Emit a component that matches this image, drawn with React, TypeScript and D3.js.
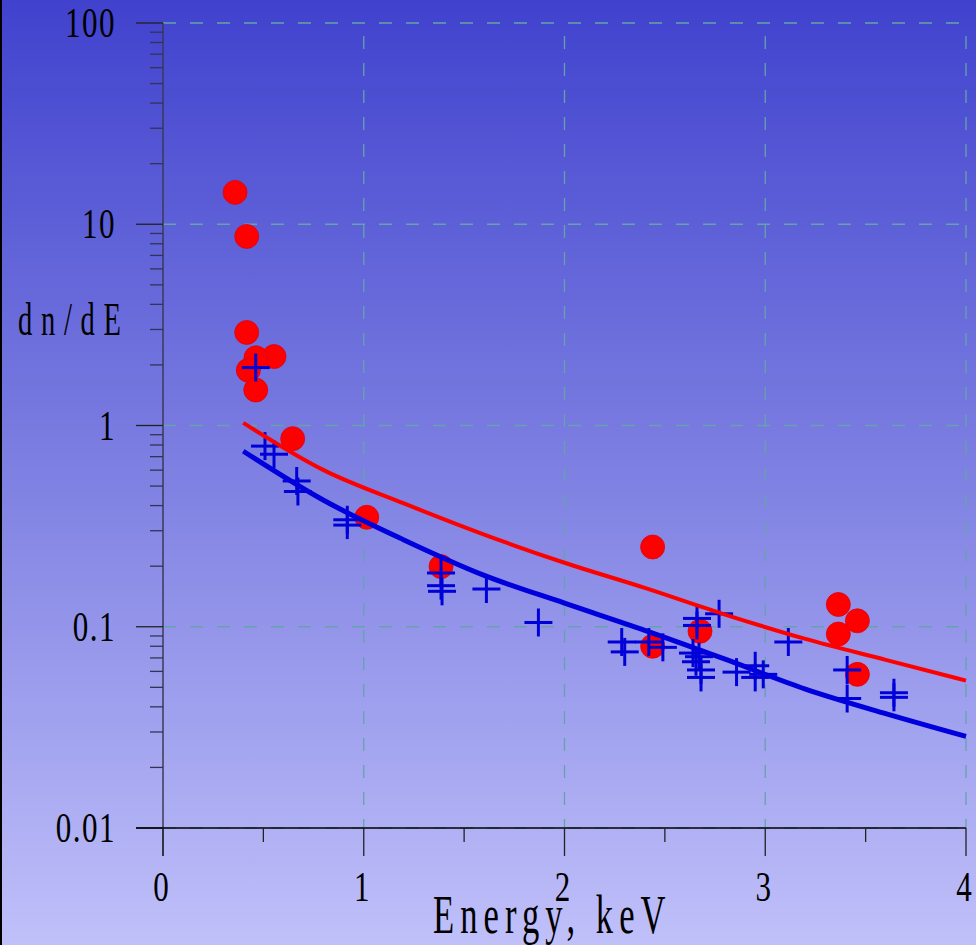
import React from "react";
import * as d3 from "d3";

const W = 976;
const H = 945;

// Red circles: energy (keV), dn/dE
const redE = [0.359, 0.417, 0.417, 0.553, 0.463, 0.425, 0.462, 0.646, 1.015, 1.385, 2.439, 2.439, 2.675, 3.364, 3.459, 3.364, 3.459];
const redV = [14.4, 8.7, 2.9, 2.2, 2.17, 1.88, 1.5, 0.86, 0.35, 0.199, 0.249, 0.08, 0.095, 0.129, 0.107, 0.092, 0.058];

// Blue crosses
const blueE = [0.462, 0.508, 0.553, 0.666, 0.672, 0.918, 0.918, 1.385, 1.385, 1.39, 1.611, 1.87, 2.285, 2.3, 2.42, 2.49, 2.66, 2.66, 2.77, 2.64, 2.67, 2.655, 2.68, 2.68, 2.857, 2.95, 2.95, 2.99, 3.115, 3.408, 3.408, 3.641, 3.641];
const blueV = [1.94, 0.79, 0.72, 0.53, 0.47, 0.34, 0.32, 0.185, 0.16, 0.15, 0.154, 0.105, 0.084, 0.075, 0.084, 0.079, 0.11, 0.1015, 0.116, 0.074, 0.071, 0.067, 0.061, 0.056, 0.0595, 0.064, 0.056, 0.058, 0.084, 0.061, 0.044, 0.047, 0.0446];

// Model curves
const curveE = [0.4, 0.8, 1.2, 1.6, 2.0, 2.4, 2.8, 3.2, 3.6, 4.0];
const redCurve = [1.03, 0.6, 0.41, 0.287, 0.208, 0.156, 0.115, 0.087, 0.0685, 0.054];
const blueCurve = [0.745, 0.425, 0.27, 0.18, 0.131, 0.096, 0.069, 0.049, 0.037, 0.0285];

const yTicks = [100, 10, 1, 0.1, 0.01];
const yTickLabels = ["100", "10", "1", "0.1", "0.01"];
const xTicks = [0, 1, 2, 3, 4];
const xTickLabels = ["0", "1", "2", "3", "4"];

export default function App() {
  const x = d3.scaleLinear().domain([0, 4]).range([163, 966]);
  const y = d3.scaleLog().domain([0.01, 100]).range([828, 23]);

  const minorY: number[] = [];
  for (const dec of [0.01, 0.1, 1, 10]) {
    for (let k = 2; k <= 9; k++) minorY.push(dec * k);
  }
  const minorX = [0.5, 1.5, 2.5, 3.5];

  const line = d3
    .line<number>()
    .x((_, i) => x(curveE[i]))
    .y((d) => y(d))
    .curve(d3.curveMonotoneX);

  const gridColor = "#66a2ac";
  const serif = "'Liberation Serif', 'DejaVu Serif', serif";

  return (
    <svg
      width={W}
      height={H}
      style={{ position: "absolute", left: 0, top: 0, display: "block" }}
      fontFamily={serif}
    >
      <defs>
        <linearGradient id="bg" x1="0" y1="0" x2="0" y2="1">
          <stop offset="0" stopColor="#4042ce" />
          <stop offset="0.5" stopColor="#7e80e2" />
          <stop offset="1" stopColor="#c0c0fa" />
        </linearGradient>
      </defs>
      <rect x={0} y={0} width={W} height={H} fill="url(#bg)" />
      <rect x={0} y={0} width={2} height={H} fill="#000" />

      {/* grid */}
      {yTicks.map((t) => (
        <line key={"gy" + t} x1={163} x2={966} y1={y(t)} y2={y(t)} stroke={gridColor} strokeWidth={1.3} strokeDasharray="13,14" />
      ))}
      {xTicks.slice(1).map((t) => (
        <line key={"gx" + t} x1={x(t)} x2={x(t)} y1={y(100) + 13} y2={828} stroke={gridColor} strokeWidth={1.3} strokeDasharray="13,14" />
      ))}

      {/* y axis */}
      <line x1={163} x2={163} y1={23} y2={856} stroke="#3a3a5a" strokeWidth={1.5} />
      {yTicks.map((t) => (
        <line key={"ty" + t} x1={136} x2={163} y1={y(t)} y2={y(t)} stroke="#222" strokeWidth={1.3} />
      ))}
      {minorY.map((t, i) => (
        <line key={"my" + i} x1={150} x2={163} y1={y(t)} y2={y(t)} stroke="#333355" strokeWidth={1.3} />
      ))}
      {yTicks.map((t, i) => (
        <text
          key={"ly" + t}
          transform={`translate(116,${y(t) + 14}) scale(0.74,1)`}
          textAnchor="end"
          fontSize={42}
          letterSpacing={2}
          fill="#000"
        >
          {yTickLabels[i]}
        </text>
      ))}

      {/* x axis */}
      <line x1={136} x2={966} y1={828} y2={828} stroke="#000" strokeWidth={1.3} />
      {xTicks.map((t) => (
        <line key={"tx" + t} x1={x(t)} x2={x(t)} y1={828} y2={856} stroke="#222" strokeWidth={1.3} />
      ))}
      {minorX.map((t) => (
        <line key={"mx" + t} x1={x(t)} x2={x(t)} y1={828} y2={842} stroke="#222" strokeWidth={1.3} />
      ))}
      {xTicks.map((t, i) => (
        <text
          key={"lx" + t}
          transform={`translate(${x(t) - 2},${901}) scale(0.74,1)`}
          textAnchor="middle"
          fontSize={42}
          fill="#000"
        >
          {xTickLabels[i]}
        </text>
      ))}

      {/* axis titles */}
      <text transform="translate(18,335) scale(0.62,1)" fontSize={46} letterSpacing={14} fill="#000">
        dn/dE
      </text>
      <text transform="translate(433,933) scale(0.64,1)" fontSize={54} letterSpacing={9.5} fill="#000">
        Energy, keV
      </text>

      {/* red circles */}
      {redE.map((e, i) => (
        <circle key={"r" + i} cx={x(e)} cy={y(redV[i])} r={12} fill="#ff0000" stroke="#e00010" strokeWidth={0.8} />
      ))}

      {/* blue crosses */}
      {blueE.map((e, i) => {
        const cx = x(e);
        const cy = y(blueV[i]);
        return (
          <g key={"b" + i} stroke="#0000d8" strokeWidth={3}>
            <line x1={cx - 14} x2={cx + 14} y1={cy} y2={cy} />
            <line x1={cx} x2={cx} y1={cy - 14} y2={cy + 14} />
          </g>
        );
      })}

      {/* model curves */}
      <path d={line(redCurve) || ""} fill="none" stroke="#ff0000" strokeWidth={4} />
      <path d={line(blueCurve) || ""} fill="none" stroke="#0000dd" strokeWidth={5} />
    </svg>
  );
}
